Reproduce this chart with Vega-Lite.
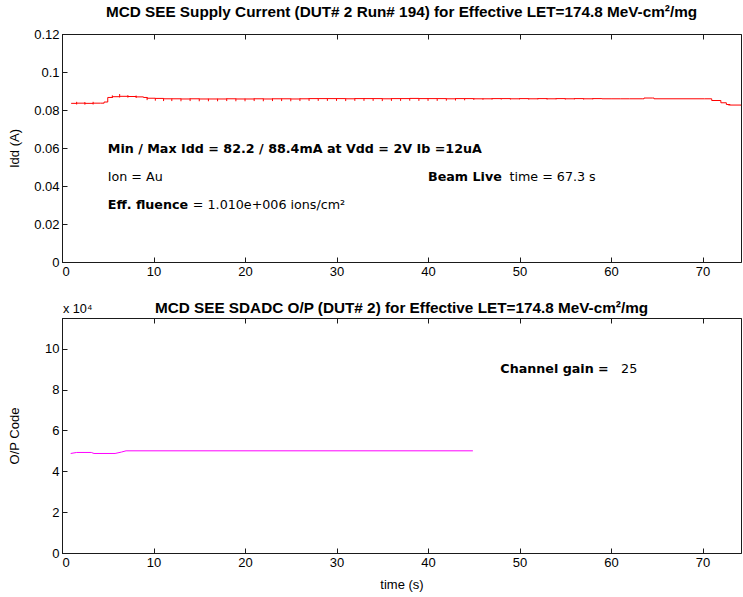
{
  "$schema": "https://vega.github.io/schema/vega-lite/v6.json",
  "background": "#ffffff",
  "padding": {"left": 7, "top": 4, "right": 0, "bottom": 0},
  "spacing": 21,
  "config": {
    "view": {"stroke": "#1a1a1a", "strokeWidth": 1},
    "axis": {
      "domainColor": "#1a1a1a", "domainWidth": 1,
      "tickColor": "#1a1a1a", "tickSize": -5, "tickWidth": 1,
      "labelFont": "'Liberation Sans Narrow', 'Liberation Sans', sans-serif",
      "labelFontSize": 13, "labelColor": "#000", "labelPadding": 8,
      "titleFont": "'Liberation Sans Narrow', 'Liberation Sans', sans-serif",
      "titleFontSize": 13, "titleFontWeight": "normal", "titleColor": "#000",
      "grid": false
    },
    "title": {
      "font": "'Liberation Sans Narrow', 'Liberation Sans', sans-serif",
      "fontSize": 15.3, "fontWeight": "bold", "color": "#000", "anchor": "middle", "offset": 8
    },
    "text": {"font": "DejaVu Sans", "fontSize": 12.7, "color": "#000", "align": "left", "baseline": "middle"}
  },
  "datasets": {
    "idd": [
      {"t": 1.0, "idd": 0.0835}, {"t": 1.6, "idd": 0.0836}, {"t": 2.5, "idd": 0.0835}, {"t": 3.4, "idd": 0.0836},
      {"t": 4.2, "idd": 0.0836}, {"t": 4.6, "idd": 0.0842}, {"t": 5.0, "idd": 0.0866}, {"t": 5.5, "idd": 0.0870},
      {"t": 6.3, "idd": 0.0872}, {"t": 7.2, "idd": 0.0871}, {"t": 8.1, "idd": 0.0869}, {"t": 8.9, "idd": 0.0866},
      {"t": 9.3, "idd": 0.0862}, {"t": 10.2, "idd": 0.0861}, {"t": 11.1, "idd": 0.0859}, {"t": 12.0, "idd": 0.0859},
      {"t": 13.0, "idd": 0.0858}, {"t": 14.0, "idd": 0.0859}, {"t": 15.0, "idd": 0.0858}, {"t": 16.0, "idd": 0.0858},
      {"t": 17.0, "idd": 0.0858}, {"t": 18.0, "idd": 0.0859}, {"t": 19.0, "idd": 0.0858}, {"t": 20.0, "idd": 0.0858},
      {"t": 21.0, "idd": 0.0859}, {"t": 22.0, "idd": 0.0858}, {"t": 23.0, "idd": 0.0859}, {"t": 24.0, "idd": 0.0859},
      {"t": 25.0, "idd": 0.0858}, {"t": 26.0, "idd": 0.0859}, {"t": 27.0, "idd": 0.0860}, {"t": 28.0, "idd": 0.0860},
      {"t": 29.0, "idd": 0.0860}, {"t": 30.0, "idd": 0.0860}, {"t": 31.0, "idd": 0.0859}, {"t": 32.0, "idd": 0.0860},
      {"t": 33.0, "idd": 0.0860}, {"t": 34.0, "idd": 0.0860}, {"t": 35.0, "idd": 0.0859}, {"t": 36.0, "idd": 0.0860},
      {"t": 37.0, "idd": 0.0860}, {"t": 38.0, "idd": 0.0861}, {"t": 39.0, "idd": 0.0860}, {"t": 40.0, "idd": 0.0860},
      {"t": 41.0, "idd": 0.0860}, {"t": 42.0, "idd": 0.0859}, {"t": 43.0, "idd": 0.0860}, {"t": 44.0, "idd": 0.0860},
      {"t": 45.0, "idd": 0.0859}, {"t": 46.0, "idd": 0.0859}, {"t": 47.0, "idd": 0.0860}, {"t": 48.0, "idd": 0.0860},
      {"t": 49.0, "idd": 0.0859}, {"t": 50.0, "idd": 0.0860}, {"t": 51.0, "idd": 0.0859}, {"t": 52.0, "idd": 0.0860},
      {"t": 53.0, "idd": 0.0859}, {"t": 54.0, "idd": 0.0860}, {"t": 55.0, "idd": 0.0859}, {"t": 56.0, "idd": 0.0860},
      {"t": 57.0, "idd": 0.0859}, {"t": 58.0, "idd": 0.0860}, {"t": 59.0, "idd": 0.0859}, {"t": 60.0, "idd": 0.0859},
      {"t": 61.0, "idd": 0.0859}, {"t": 62.0, "idd": 0.0859}, {"t": 63.4, "idd": 0.0859}, {"t": 63.6, "idd": 0.0863},
      {"t": 64.5, "idd": 0.0863}, {"t": 64.7, "idd": 0.0859}, {"t": 70.2, "idd": 0.0859}, {"t": 71.0, "idd": 0.0850},
      {"t": 72.0, "idd": 0.0838}, {"t": 72.6, "idd": 0.0829}, {"t": 73.0, "idd": 0.0826}, {"t": 74.2, "idd": 0.0825}
    ],
    "idd_err": [
      {"t": 1.6, "lo": 0.0829, "hi": 0.0843}, {"t": 2.5, "lo": 0.0828, "hi": 0.0842}, {"t": 3.4, "lo": 0.0829, "hi": 0.0843},
      {"t": 5.5, "lo": 0.0864, "hi": 0.0877}, {"t": 6.3, "lo": 0.0866, "hi": 0.0884}, {"t": 7.2, "lo": 0.0865, "hi": 0.0878},
      {"t": 8.1, "lo": 0.0863, "hi": 0.0876}, {"t": 9.3, "lo": 0.0852, "hi": 0.0868},
      {"t": 10.2, "lo": 0.0849, "hi": 0.0863}, {"t": 11.1, "lo": 0.0847, "hi": 0.0861}, {"t": 12.0, "lo": 0.0847, "hi": 0.0861},
      {"t": 13.0, "lo": 0.0846, "hi": 0.0860}, {"t": 14.0, "lo": 0.0847, "hi": 0.0861}, {"t": 15.0, "lo": 0.0846, "hi": 0.0860},
      {"t": 16.0, "lo": 0.0846, "hi": 0.0860}, {"t": 17.0, "lo": 0.0846, "hi": 0.0860}, {"t": 18.0, "lo": 0.0847, "hi": 0.0861},
      {"t": 19.0, "lo": 0.0846, "hi": 0.0860}, {"t": 20.0, "lo": 0.0846, "hi": 0.0860}, {"t": 21.0, "lo": 0.0847, "hi": 0.0861},
      {"t": 22.0, "lo": 0.0846, "hi": 0.0860}, {"t": 23.0, "lo": 0.0847, "hi": 0.0861}, {"t": 24.0, "lo": 0.0847, "hi": 0.0861},
      {"t": 25.0, "lo": 0.0846, "hi": 0.0860}, {"t": 26.0, "lo": 0.0847, "hi": 0.0861}, {"t": 27.0, "lo": 0.0848, "hi": 0.0862},
      {"t": 28.0, "lo": 0.0848, "hi": 0.0862}, {"t": 29.0, "lo": 0.0848, "hi": 0.0862}, {"t": 30.0, "lo": 0.0848, "hi": 0.0862},
      {"t": 31.0, "lo": 0.0847, "hi": 0.0861}, {"t": 32.0, "lo": 0.0848, "hi": 0.0862}, {"t": 33.0, "lo": 0.0848, "hi": 0.0862},
      {"t": 34.0, "lo": 0.0848, "hi": 0.0862}, {"t": 35.0, "lo": 0.0847, "hi": 0.0861}, {"t": 36.0, "lo": 0.0848, "hi": 0.0862},
      {"t": 37.0, "lo": 0.0848, "hi": 0.0862}, {"t": 38.0, "lo": 0.0849, "hi": 0.0863}, {"t": 39.0, "lo": 0.0848, "hi": 0.0862},
      {"t": 40.0, "lo": 0.0848, "hi": 0.0862}, {"t": 41.0, "lo": 0.0848, "hi": 0.0862}, {"t": 42.0, "lo": 0.0849, "hi": 0.0861},
      {"t": 43.0, "lo": 0.0850, "hi": 0.0862}, {"t": 44.0, "lo": 0.0851, "hi": 0.0862}, {"t": 45.0, "lo": 0.0853, "hi": 0.0861},
      {"t": 46.0, "lo": 0.0854, "hi": 0.0861}, {"t": 47.0, "lo": 0.0855, "hi": 0.0862}, {"t": 48.0, "lo": 0.0855, "hi": 0.0862},
      {"t": 49.0, "lo": 0.0855, "hi": 0.0861}, {"t": 50.0, "lo": 0.0856, "hi": 0.0862}, {"t": 51.0, "lo": 0.0855, "hi": 0.0861},
      {"t": 52.0, "lo": 0.0856, "hi": 0.0862}, {"t": 53.0, "lo": 0.0855, "hi": 0.0861}, {"t": 54.0, "lo": 0.0856, "hi": 0.0862},
      {"t": 55.0, "lo": 0.0855, "hi": 0.0861}, {"t": 56.0, "lo": 0.0856, "hi": 0.0862}, {"t": 57.0, "lo": 0.0855, "hi": 0.0861},
      {"t": 58.0, "lo": 0.0856, "hi": 0.0862}, {"t": 72.9, "lo": 0.0822, "hi": 0.0829}
    ],
    "idd_notes": [
      {"t": 5.0, "v": 0.0595, "label": "Min / Max Idd = 82.2 / 88.4mA at Vdd = 2V Ib =12uA", "bold": true},
      {"t": 5.0, "v": 0.0447, "label": "Ion = Au", "bold": false},
      {"t": 5.0, "v": 0.0300, "label": "Eff. fluence", "bold": true},
      {"t": 14.3, "v": 0.0300, "label": "= 1.010e+006 ions/cm²", "bold": false},
      {"t": 40.0, "v": 0.0447, "label": "Beam Live", "bold": true},
      {"t": 48.9, "v": 0.0447, "label": "time = 67.3 s", "bold": false}
    ],
    "adc": [
      {"t": 0.95, "code": 48700}, {"t": 1.6, "code": 49200}, {"t": 3.2, "code": 49200}, {"t": 3.5, "code": 48700},
      {"t": 5.8, "code": 48700}, {"t": 6.5, "code": 49400}, {"t": 7.0, "code": 50000}, {"t": 44.9, "code": 50000}
    ],
    "adc_notes": [
      {"t": 47.9, "v": 90000, "label": "Channel gain =", "bold": true},
      {"t": 61.1, "v": 90000, "label": "25", "bold": false}
    ],
    "adc_exp": [
      {"t": 0.1, "v": 115000, "label": "x 10⁴"}
    ]
  },
  "vconcat": [
    {
      "title": "MCD SEE Supply Current (DUT# 2 Run# 194) for Effective LET=174.8 MeV-cm²/mg",
      "width": 679,
      "height": 228,
      "resolve": {"axis": {"x": "independent", "y": "independent"}},
      "layer": [
        {
          "data": {"name": "idd"},
          "mark": {"type": "line", "color": "#ff0000", "strokeWidth": 1, "interpolate": "step-after"},
          "encoding": {
            "x": {"field": "t", "type": "quantitative",
                  "scale": {"domain": [0, 74.2], "nice": false, "zero": false},
                  "axis": {"values": [0, 10, 20, 30, 40, 50, 60, 70], "title": null}},
            "y": {"field": "idd", "type": "quantitative",
                  "scale": {"domain": [0, 0.12], "nice": false},
                  "axis": {"values": [0, 0.02, 0.04, 0.06, 0.08, 0.1, 0.12], "labelExpr": "'' + datum.value",
                           "title": "Idd (A)", "titleX": -41}}
          }
        },
        {
          "data": {"name": "idd_err"},
          "mark": {"type": "rule", "color": "#ff0000", "strokeWidth": 1},
          "encoding": {
            "x": {"field": "t", "type": "quantitative",
                  "axis": {"orient": "top", "values": [0, 10, 20, 30, 40, 50, 60, 70], "labels": false, "title": null}},
            "y": {"field": "lo", "type": "quantitative", "axis": null},
            "y2": {"field": "hi"}
          }
        },
        {
          "data": {"name": "idd_notes"},
          "transform": [{"filter": "datum.bold"}],
          "mark": {"type": "text", "fontWeight": "bold"},
          "encoding": {
            "x": {"field": "t", "type": "quantitative", "axis": null},
            "y": {"field": "v", "type": "quantitative", "axis": null},
            "text": {"field": "label"}
          }
        },
        {
          "data": {"name": "idd_notes"},
          "transform": [{"filter": "!datum.bold"}],
          "mark": {"type": "text", "fontWeight": "normal"},
          "encoding": {
            "x": {"field": "t", "type": "quantitative", "axis": null},
            "y": {"field": "v", "type": "quantitative", "axis": null},
            "text": {"field": "label"}
          }
        }
      ]
    },
    {
      "title": {"text": "MCD SEE SDADC O/P (DUT# 2) for Effective LET=174.8 MeV-cm²/mg", "offset": -13},
      "width": 679,
      "height": 235,
      "resolve": {"axis": {"x": "independent", "y": "independent"}},
      "layer": [
        {
          "data": {"name": "adc"},
          "mark": {"type": "line", "color": "#ff00ff", "strokeWidth": 1},
          "encoding": {
            "x": {"field": "t", "type": "quantitative",
                  "scale": {"domain": [0, 74.2], "nice": false, "zero": false},
                  "axis": {"values": [0, 10, 20, 30, 40, 50, 60, 70], "title": "time (s)", "titlePadding": 9}},
            "y": {"field": "code", "type": "quantitative",
                  "scale": {"domain": [0, 115000], "nice": false},
                  "axis": {"values": [0, 20000, 40000, 60000, 80000, 100000], "labelExpr": "'' + (datum.value / 10000)",
                           "title": "O/P Code", "titleX": -41}}
          }
        },
        {
          "data": {"name": "adc_notes"},
          "transform": [{"filter": "datum.bold"}],
          "mark": {"type": "text", "fontWeight": "bold"},
          "encoding": {
            "x": {"field": "t", "type": "quantitative",
                  "axis": {"orient": "top", "values": [0, 10, 20, 30, 40, 50, 60, 70], "labels": false, "title": null}},
            "y": {"field": "v", "type": "quantitative", "axis": null},
            "text": {"field": "label"}
          }
        },
        {
          "data": {"name": "adc_notes"},
          "transform": [{"filter": "!datum.bold"}],
          "mark": {"type": "text", "fontWeight": "normal"},
          "encoding": {
            "x": {"field": "t", "type": "quantitative", "axis": null},
            "y": {"field": "v", "type": "quantitative", "axis": null},
            "text": {"field": "label"}
          }
        },
        {
          "data": {"name": "adc_exp"},
          "mark": {"type": "text", "font": "Liberation Sans", "baseline": "bottom", "dy": -2},
          "encoding": {
            "x": {"field": "t", "type": "quantitative", "axis": null},
            "y": {"field": "v", "type": "quantitative", "axis": null},
            "text": {"field": "label"}
          }
        }
      ]
    }
  ]
}
